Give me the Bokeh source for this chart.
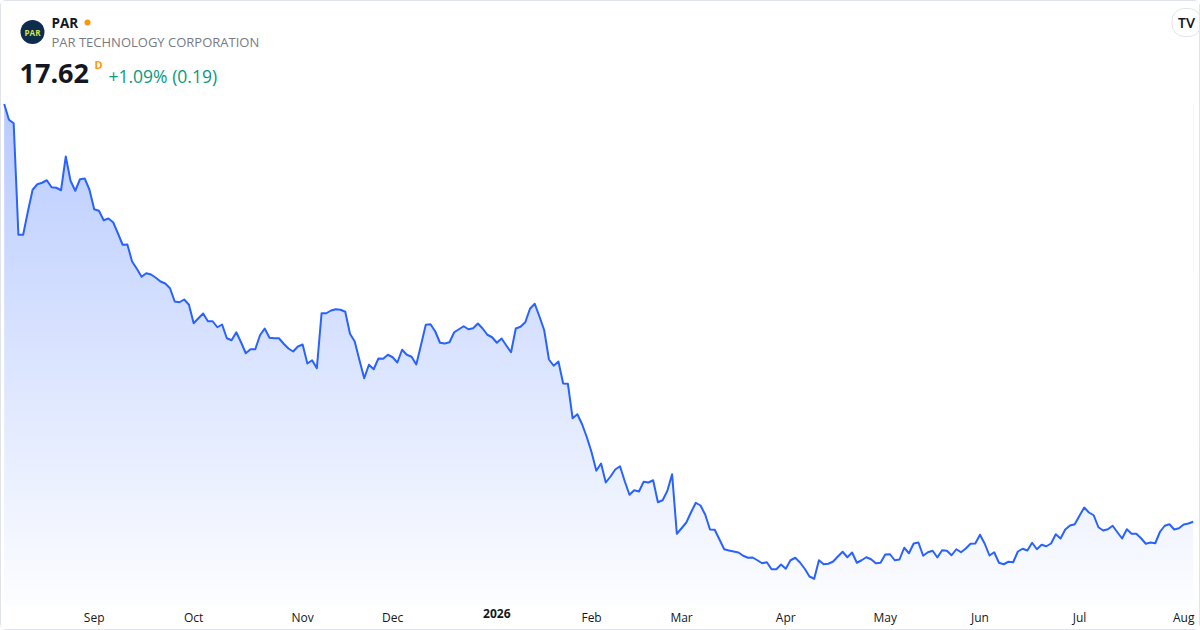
import numpy as np
from bokeh.plotting import figure
from bokeh.models import Range1d, FixedTicker, Label
from bokeh.embed import file_html
from bokeh.resources import INLINE

# ---------------- data ----------------
symbol = "PAR"
company = "PAR TECHNOLOGY CORPORATION"
last_price = "17.62"
change_text = "+1.09% (0.19)"

prices = [
    51.04, 49.78, 49.50, 40.58, 40.58, 42.44, 44.18, 44.62, 44.74, 44.94,
    44.38, 44.34, 44.14, 46.84, 44.90, 44.10, 45.02, 45.08, 44.18, 42.62,
    42.50, 41.74, 41.88, 41.58, 40.70, 39.78, 39.80, 38.44, 37.86, 37.22,
    37.50, 37.40, 37.14, 36.84, 36.68, 36.30, 35.24, 35.18, 35.40, 34.98,
    33.50, 33.90, 34.28, 33.66, 33.66, 33.18, 33.40, 32.30, 32.14, 32.78,
    31.98, 31.10, 31.42, 31.42, 32.54, 33.08, 32.34, 32.30, 32.30, 31.86,
    31.48, 31.24, 31.64, 31.80, 30.28, 30.54, 29.90, 34.30, 34.30, 34.52,
    34.62, 34.58, 34.42, 32.66, 32.04, 30.54, 29.10, 30.18, 29.82, 30.68,
    30.66, 30.98, 30.78, 30.36, 31.38,
    30.98, 30.82, 30.20, 31.78, 33.38, 33.42, 32.84, 31.94, 31.88, 31.98,
    32.78, 33.02, 33.26, 33.02, 33.10, 33.48, 33.08, 32.58, 32.38, 31.94,
    32.28, 31.72, 31.18, 33.08, 33.22, 33.58, 34.66, 35.06, 34.04, 32.94,
    30.60, 30.10, 30.44, 28.68, 28.66, 25.90, 26.22, 25.42, 24.38, 23.18,
    21.70, 22.28, 20.76, 21.24, 21.80, 22.06, 20.86, 19.78, 20.14, 20.04,
    20.82, 20.76, 20.94, 19.18, 19.34, 20.10, 21.42, 16.66, 17.10, 17.56,
    18.38, 19.14, 18.92, 18.18, 17.00, 16.98, 16.20, 15.42, 15.32, 15.24,
    15.16, 14.90, 14.74, 14.76, 14.54, 14.30, 14.38, 13.82, 13.82, 14.20,
    13.86, 14.54, 14.74, 14.36,
    13.86, 13.24, 13.06, 14.54, 14.22, 14.26, 14.44, 14.84, 15.22, 14.78,
    15.16, 14.34, 14.54, 14.78, 14.62, 14.30, 14.34, 15.00, 15.02, 14.54,
    14.60, 15.54, 15.10, 15.88, 15.96, 14.90, 15.18, 15.30, 14.76, 15.34,
    15.30, 14.94, 15.42, 15.18, 15.48, 15.86, 15.88, 16.58, 15.86, 14.92,
    15.18, 14.34, 14.22, 14.42, 14.38, 15.24, 15.46, 15.32, 15.94, 15.42,
    15.78, 15.66, 15.88, 16.62, 16.28, 17.00, 17.32, 17.42, 18.10, 18.76,
    18.36, 18.14, 17.18, 16.92, 17.02, 17.30, 16.78, 16.28, 17.02, 16.66,
    16.66, 16.30, 15.86, 15.96, 15.90, 16.82, 17.30, 17.42, 17.00, 17.10,
    17.40, 17.48, 17.62,
]

# trading-day index of the first bar of each month
month_ticks = [19, 40, 63, 82, 104, 124, 143, 165, 186, 206, 227, 249]
month_labels = ["Sep", "Oct", "Nov", "Dec", "2026", "Feb", "Mar", "Apr",
                "May", "Jun", "Jul", "Aug"]
year_label = "2026"

# ---------------- layout / style ----------------
W, H = 1200, 630
FRAME_H = H
X0, X1 = -0.57, 252.76
Y0, Y1 = 8.84, 59.24
BASE = 11.00          # price level where the area fill stops (pane bottom)
FONT = "Open Sans"
LINE_COLOR = "#2962ff"
TEXT_COLOR = "#131722"
STANDOFF = 4
BASELINE_FIX = 0.36  # em offset of Bokeh's alphabetic baseline

idx = np.arange(len(prices))
vals = np.array(prices)

p = figure(width=W, height=H, x_range=Range1d(X0, X1), y_range=Range1d(Y0, Y1),
           output_backend="svg", toolbar_location=None, y_axis_location=None,
           min_border_left=0, min_border_right=0, min_border_top=0,
           min_border_bottom=0)
p.grid.visible = False
p.outline_line_color = None
p.background_fill_color = "white"
p.border_fill_color = "white"
p.styles = {"border": "1px solid #e0e3eb", "border-radius": "6px",
            "box-sizing": "border-box"}

# gradient under the line: vertical image, then a white mask above the line
N = 400
alpha = np.linspace(0.01, 0.33, N)
base = np.array([41, 98, 255])
rgb = 255 - alpha[:, None] * (255 - base[None, :])
img = np.zeros((N, 1), dtype=np.uint32)
view = img.view(dtype=np.uint8).reshape((N, 1, 4))
view[:, 0, 0] = rgb[:, 0]
view[:, 0, 1] = rgb[:, 1]
view[:, 0, 2] = rgb[:, 2]
view[:, 0, 3] = 255
p.image_rgba(image=[img], x=idx[0], y=BASE, dw=idx[-1] - idx[0], dh=vals.max() - BASE)
p.varea(x=idx, y1=vals, y2=Y1, fill_color="white", fill_alpha=1.0)
p.line(idx, vals, line_color=LINE_COLOR, line_width=2, line_join="round")

# x axis with month labels, drawn at the bottom of the price pane
ax = p.xaxis[0]
ax.fixed_location = BASE
ax.ticker = FixedTicker(ticks=month_ticks, minor_ticks=[])
ax.major_label_overrides = {t: ("" if l == year_label else l)
                            for t, l in zip(month_ticks, month_labels)}
ax.axis_line_color = None
ax.major_tick_line_color = None
ax.minor_tick_line_color = None
ax.major_tick_out = 0
ax.major_tick_in = 0
ax.major_label_standoff = STANDOFF
ax.major_label_text_font = FONT
ax.major_label_text_font_size = "12px"
ax.major_label_text_color = TEXT_COLOR

# bold year label at its tick
base_from_bottom = (BASE - Y0) / (Y1 - Y0) * FRAME_H
yi = month_labels.index(year_label)
p.add_layout(Label(x=month_ticks[yi], y=base_from_bottom - STANDOFF, x_units="data",
                   y_units="screen", text=year_label, text_align="center",
                   text_baseline="top", text_font=FONT, text_font_size="12px",
                   text_font_style="bold", text_color=TEXT_COLOR))


# ---------------- header ----------------
def dx(fx):
    return X0 + fx / W * (X1 - X0)


def dy(fy):
    return Y1 - fy / FRAME_H * (Y1 - Y0)


def base_y(fy, size):
    # screen y (from frame bottom) for a text whose baseline is at fy px from top
    return FRAME_H - (fy - BASELINE_FIX * size)


# logo
p.scatter(x=[dx(31)], y=[dy(30.5)], size=24, marker="circle",
          fill_color="#0e2c4b", line_color=None)
p.add_layout(Label(x=31, y=FRAME_H - 30.5, x_units="screen", y_units="screen", text=symbol,
                   text_align="center", text_baseline="middle", text_font=FONT,
                   text_font_size="8px", text_font_style="bold", text_color="#d9e24a"))
# status dot
p.scatter(x=[dx(86)], y=[dy(21)], size=6, marker="circle",
          fill_color="#ff9800", line_color=None)

p.add_layout(Label(x=50, y=base_y(26, 13.5), x_units="screen", y_units="screen", text=symbol,
                   text_align="left", text_baseline="alphabetic", text_font=FONT,
                   text_font_size="13.5px", text_font_style="bold", text_color=TEXT_COLOR))
p.add_layout(Label(x=50, y=base_y(45, 13), x_units="screen", y_units="screen", text=company,
                   text_align="left", text_baseline="alphabetic", text_font=FONT,
                   text_font_size="13px", text_color="#787b86"))
p.add_layout(Label(x=18, y=base_y(81.5, 27), x_units="screen", y_units="screen", text=last_price,
                   text_align="left", text_baseline="alphabetic", text_font=FONT,
                   text_font_size="27px", text_font_style="bold", text_color=TEXT_COLOR))
p.add_layout(Label(x=93, y=base_y(66.5, 11), x_units="screen", y_units="screen", text="D",
                   text_align="left", text_baseline="alphabetic", text_font=FONT,
                   text_font_size="11px", text_font_style="bold", text_color="#ff9800"))
p.add_layout(Label(x=107, y=base_y(80.7, 17.5), x_units="screen", y_units="screen", text=change_text,
                   text_align="left", text_baseline="alphabetic", text_font=FONT,
                   text_font_size="17.5px", text_color="#089981"))

# TradingView badge (top right)
p.add_layout(Label(x=1185, y=FRAME_H - 21, x_units="screen", y_units="screen", text="TV",
                   text_align="center", text_baseline="middle", text_font="Lato",
                   text_font_size="13px", text_font_style="bold", text_color="#131722",
                   background_fill_color="white", border_line_color="#e0e3eb",
                   border_radius=12, padding=6))

open("out.html", "w").write(file_html(p, INLINE))
